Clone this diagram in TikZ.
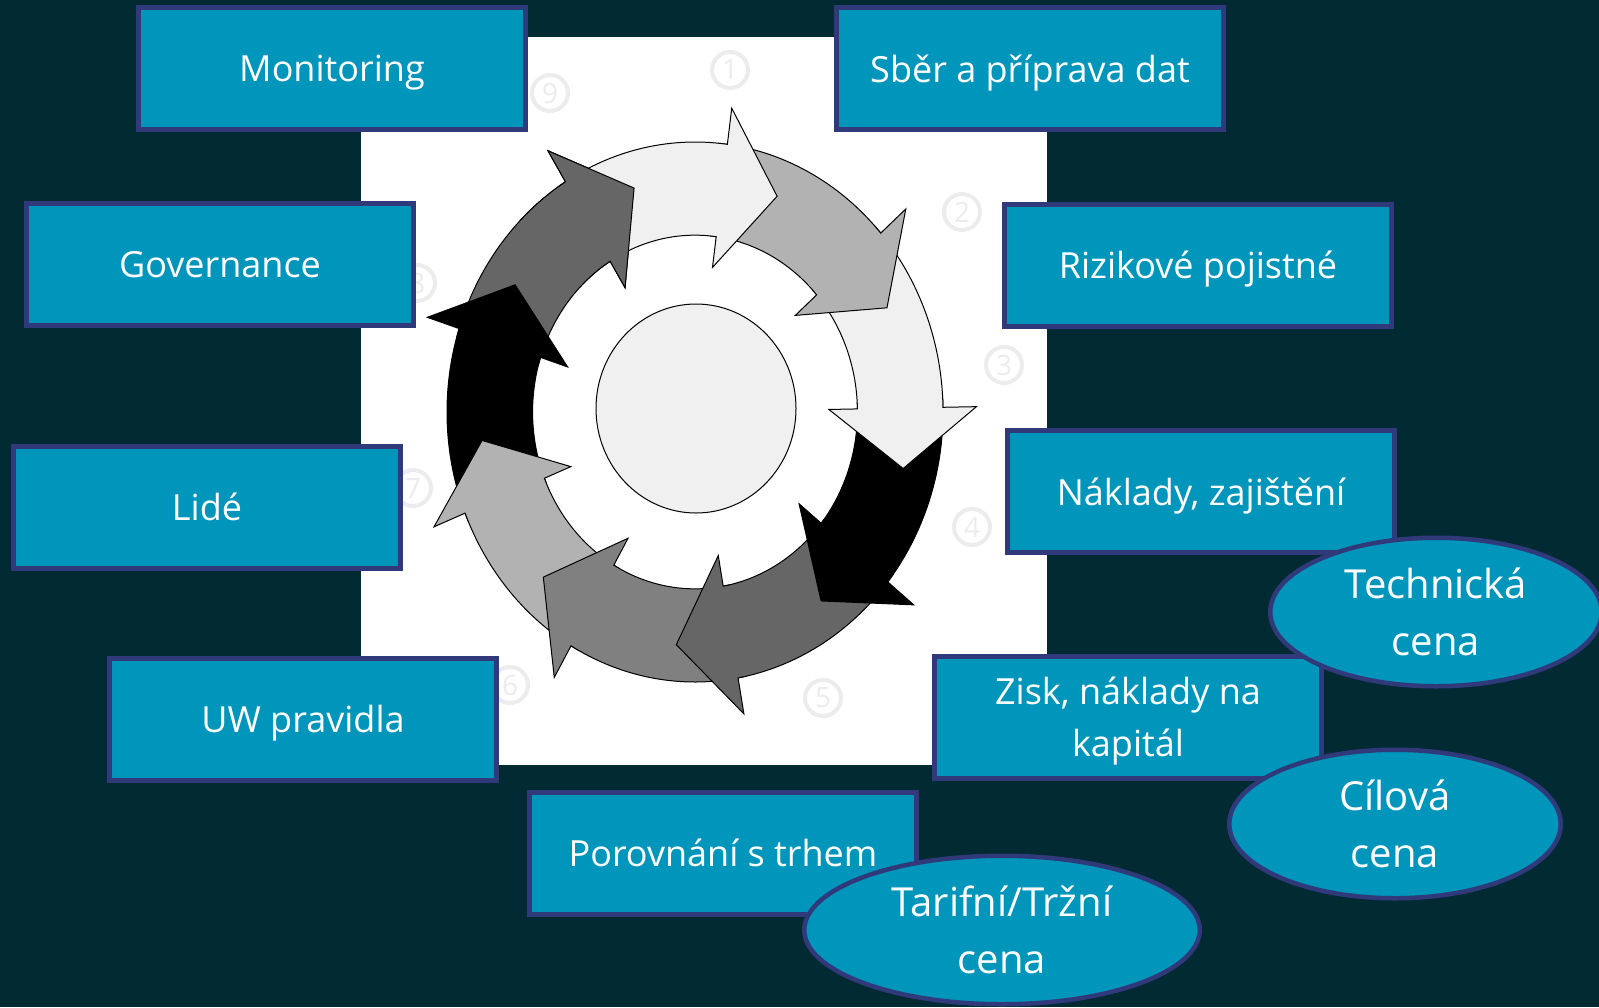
\documentclass[tikz,border=0pt]{standalone}
\usepackage{fontspec}
\setmainfont{Open Sans}
\usetikzlibrary{shapes.geometric}

\definecolor{pagebg}{RGB}{1,42,51}
\definecolor{boxfill}{RGB}{0,149,186}
\definecolor{boxline}{RGB}{48,58,122}
\definecolor{ringlight}{RGB}{240,240,240}
\definecolor{ringmid}{RGB}{178,178,178}
\definecolor{ringgrey}{RGB}{128,128,128}
\definecolor{ringdark}{RGB}{102,102,102}
\definecolor{numgrey}{RGB}{236,236,236}

%% one curved arrow of the ring: #1 head base angle, #2 tail angle, #3 fill
\newcommand\ringarrow[3]{%
  \filldraw[ringpart, fill=#3]
    ({#2}:1) arc[start angle={#2}, end angle={#1}, radius=1]
    -- ({#1}:1.135) -- ({#1-15}:0.865) -- ({#1}:0.54) -- ({#1}:0.655)
    arc[start angle={#1}, end angle={#2}, radius=0.655] -- cycle;}

\begin{document}
\begin{tikzpicture}[x=0.5pt,y=-0.5pt,
    ringpart/.style={draw=black, line width=0.5pt, line join=miter},
    stepbox/.style={draw=boxline, line width=2.5pt, fill=boxfill, text=white,
      minimum width=193.5pt, minimum height=61pt, inner sep=0pt, align=center,
      text depth=0pt, font=\fontsize{18}{26}\selectfont},
    price/.style={ellipse, draw=boxline, line width=2.25pt, fill=boxfill, text=white,
      inner sep=0pt, align=center, minimum height=74.25pt,
      font=\fontsize{20}{28.5}\selectfont},
    numring/.style={circle, draw=numgrey, line width=2pt, minimum size=18pt,
      inner sep=0pt, text=numgrey, font=\fontsize{14}{14}\selectfont}]
    \useasboundingbox (0,0) rectangle (1599,1007);
    \fill[pagebg] (0,0) rectangle (1599,1007);
    \fill[white] (361,37) rectangle (1047,765);

    %% faint step numbers
    \node[numring] (n1) at (730,70) {1};
    \node[numring] (n2) at (962,212) {2};
    \node[numring] (n3) at (1004,365) {3};
    \node[numring] (n4) at (972,527) {4};
    \node[numring] (n5) at (823,698) {5};
    \node[numring] (n6) at (510,685) {6};
    \node[numring] (n7) at (413,488) {7};
    \node[numring] (n8) at (417,283) {8};
    \node[numring] (n9) at (550,93) {9};

    %% the ring, drawn backwards so that each head lies on the next tail
    \begin{scope}[shift={(695,412)}, xscale=248, yscale=-270]
      \ringarrow{121.5}{164}{ringdark}
      \ringarrow{162}{204}{black}
      \ringarrow{202}{242}{ringmid}
      \ringarrow{240}{282}{ringgrey}
      \ringarrow{280}{323}{ringdark}
      \ringarrow{321}{363}{black}
      \ringarrow{1}{43.5}{ringlight}
      \ringarrow{41.5}{84.5}{ringmid}
      \ringarrow{82.5}{123.5}{ringlight}
      %% head of the last arrow over the tail of the first
      \begin{scope}
        \clip (0,0) -- (135:1.5) arc[start angle=135, end angle=98, radius=1.5] -- cycle;
        \ringarrow{121.5}{164}{ringdark}
      \end{scope}
    \end{scope}
    \node[ellipse, draw=black, line width=0.5pt, fill=ringlight,
      minimum width=100pt, minimum height=104.5pt] (hub) at (696,408.5) {};

    %% left column
    \node[stepbox] (monitoring) at (332,68.5) {Monitoring};
    \node[stepbox] (governance) at (220,264) {Governance};
    \node[stepbox] (lide) at (207,507) {Lidé};
    \node[stepbox] (uw) at (303,719) {UW pravidla};

    %% right column
    \node[stepbox] (sber) at (1030,68.5) {Sběr a příprava dat};
    \node[stepbox] (rizikove) at (1198,265) {Rizikové pojistné};
    \node[stepbox] (naklady) at (1201,491.5) {Náklady, zajištění};
    \node[stepbox] (zisk) at (1128,717) {Zisk, náklady na\\kapitál};
    \node[stepbox] (porovnani) at (723,853) {Porovnání s trhem};

    %% prices
    \node[price, minimum width=165.75pt] (technicka) at (1436,612) {Technická\\cena};
    \node[price, minimum width=165.75pt] (cilova) at (1395,824) {Cílová\\cena};
    \node[price, minimum width=197.75pt] (trzni) at (1002,930) {Tarifní/Tržní\\cena};
\end{tikzpicture}
\end{document}
